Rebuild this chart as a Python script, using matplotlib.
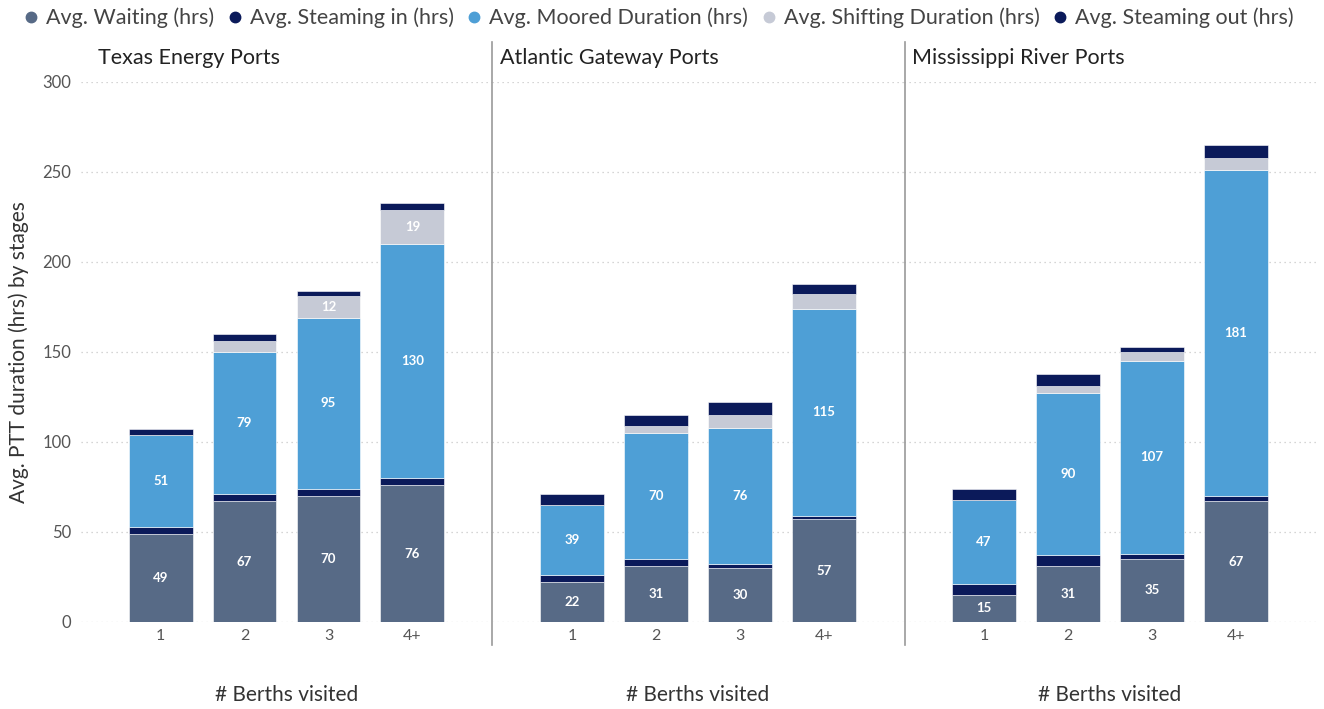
import numpy as np
import matplotlib.pyplot as plt
from matplotlib.lines import Line2D

plt.rcParams['font.family'] = ['Lato', 'DejaVu Sans']

# Data
panels = ['Texas Energy Ports', 'Atlantic Gateway Ports', 'Mississippi River Ports']
berths = ['1', '2', '3', '4+']
stages = ['Avg. Waiting (hrs)', 'Avg. Steaming in (hrs)', 'Avg. Moored Duration (hrs)',
          'Avg. Shifting Duration (hrs)', 'Avg. Steaming out (hrs)']
colors = ['#576A86', '#0B1A5A', '#4E9FD6', '#C6CAD6', '#0B1A5A']

waiting = [[49, 67, 70, 76], [22, 31, 30, 57], [15, 31, 35, 67]]
steam_in = [[4, 4, 4, 4], [4, 4, 2, 2], [6, 6, 3, 3]]
moored = [[51, 79, 95, 130], [39, 70, 76, 115], [47, 90, 107, 181]]
shifting = [[0, 6, 12, 19], [0, 4, 7, 8], [0, 4, 5, 7]]
steam_out = [[3, 4, 3, 4], [6, 6, 7, 6], [6, 7, 3, 7]]

W, H = 1324, 709
fig = plt.figure(figsize=(W / 100, H / 100), dpi=100)

lefts = [81, 492, 904]
widths = [411, 412, 412]
title_x = [98, 500, 912]
bottom = (H - 622) / H
height = (622 - 82) / H
x = np.arange(len(berths))

for p in range(3):
    ax = fig.add_axes([lefts[p] / W, bottom, widths[p] / W, height])
    series = [waiting[p], steam_in[p], moored[p], shifting[p], steam_out[p]]
    base = np.zeros(len(berths))
    for s, vals in enumerate(series):
        vals = np.array(vals, dtype=float)
        ax.bar(x, vals, 0.76, bottom=base, color=colors[s], edgecolor='white',
               linewidth=0.4, zorder=3)
        for i, v in enumerate(vals):
            if v >= 10:
                ax.text(x[i], base[i] + v / 2, f'{int(v)}', ha='center', va='center',
                        color='white', fontsize=9.5, fontweight='bold', zorder=4)
        base += vals
    ax.set_xlim(-0.95, 3.95)
    ax.set_ylim(0, 300)
    ax.set_yticks(range(0, 301, 50))
    ax.grid(axis='y', linestyle=(0, (1, 3)), color='#C8C8C8', linewidth=0.9, zorder=0)
    for sp in ax.spines.values():
        sp.set_visible(False)
    ax.set_xticks(x)
    ax.set_xticklabels(berths, fontsize=11.5, color='#555555')
    ax.tick_params(axis='both', length=0)
    ax.tick_params(axis='x', pad=5)
    if p == 0:
        ax.tick_params(axis='y', labelsize=12, labelcolor='#555555', pad=7)
        ax.set_ylabel('Avg. PTT duration (hrs) by stages', fontsize=15, color='#333333', labelpad=10)
    else:
        ax.set_yticklabels([])
    ax.set_xlabel('# Berths visited', fontsize=15, color='#333333', labelpad=30)
    fig.text(title_x[p] / W, 1 - 58 / H, panels[p], fontsize=15.5, color='#222222',
             ha='left', va='center')

# Panel dividers
for xd in [492, 905]:
    fig.add_artist(Line2D([xd / W, xd / W], [1 - 42 / H, 1 - 645 / H],
                          color='#9A9A9A', linewidth=1.2))

handles = [Line2D([], [], marker='o', linestyle='', color=c, markersize=7.5) for c in colors]
fig.legend(handles, stages, loc='center', bbox_to_anchor=(0.497, 1 - 18 / H), ncol=5,
           frameon=False, fontsize=15.5, handlelength=0.8, handletextpad=0.3,
           columnspacing=0.55, labelcolor='#444444')

fig.savefig('out.png', dpi=100)
